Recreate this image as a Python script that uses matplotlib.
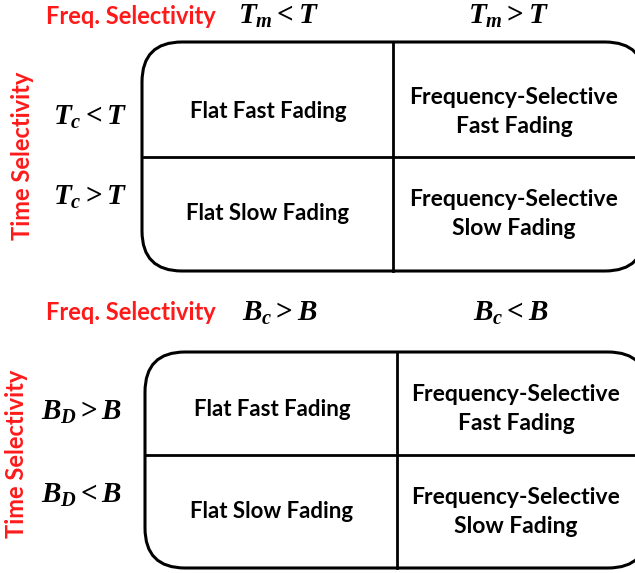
import matplotlib.pyplot as plt
from matplotlib.patches import FancyBboxPatch

plt.rcParams['mathtext.fontset'] = 'custom'
plt.rcParams['mathtext.it'] = 'Liberation Serif:italic:bold'
plt.rcParams['mathtext.rm'] = 'Liberation Serif:bold'

# labels of the two classification tables
col_top = [r'$T_m < T$', r'$T_m > T$']
row_top = [r'$T_c < T$', r'$T_c > T$']
col_bot = [r'$B_c > B$', r'$B_c < B$']
row_bot = [r'$B_D > B$', r'$B_D < B$']
cells = [["Flat Fast Fading", "Frequency-Selective\nFast Fading"],
         ["Flat Slow Fading", "Frequency-Selective\nSlow Fading"]]
freq_label = "Freq. Selectivity"
time_label = "Time Selectivity"

W, H = 635, 573
fig = plt.figure(figsize=(W / 100, H / 100), dpi=100)
ax = fig.add_axes([0, 0, 1, 1])
ax.set_xlim(0, W)
ax.set_ylim(H, 0)
ax.axis("off")

FONT = "Lato"
RED = "#ff1a1a"


def draw_table(left, top, right, bottom, xdiv, ydiv, cols, rows,
               freq_x, head_y, col_x, time_x, time_y, row_x, row_y,
               cell_x, cell_y):
    box = FancyBboxPatch((left, top), right - left, bottom - top,
                         boxstyle="round,pad=0,rounding_size=40",
                         fc="white", ec="black", lw=2.2)
    ax.add_patch(box)
    ax.plot([xdiv, xdiv], [top, bottom], color="black", lw=2.0)
    ax.plot([left, right], [ydiv, ydiv], color="black", lw=2.0)

    ax.text(freq_x, head_y, freq_label, color=RED, fontsize=17,
            fontweight="bold", family=FONT, ha="center", va="center")
    for x, lab in zip(col_x, cols):
        ax.text(x, head_y, lab, fontsize=21, ha="center", va="center")
    ax.text(time_x, time_y, time_label, color=RED, fontsize=17,
            fontweight="bold", family=FONT, rotation=90,
            ha="center", va="center")
    for y, lab in zip(row_y, rows):
        ax.text(row_x, y, lab, fontsize=21, ha="center", va="center")
    for i in range(2):
        for j in range(2):
            ax.text(cell_x[j], cell_y[i], cells[i][j],
                    fontsize=16 if j == 0 else 16.5,
                    fontweight="bold", family=FONT, ha="center", va="center",
                    linespacing=1.45)


draw_table(142, 42, 645, 271, 393, 157, col_top, row_top,
           freq_x=131, head_y=16, col_x=[278, 508],
           time_x=23, time_y=156, row_x=90, row_y=[117, 197],
           cell_x=[268, 514], cell_y=[112, 214])

draw_table(145, 352, 648, 568, 397, 455, col_bot, row_bot,
           freq_x=131, head_y=313, col_x=[280, 511],
           time_x=17, time_y=454, row_x=82, row_y=[412, 495],
           cell_x=[272, 516], cell_y=[409, 512])

fig.savefig("out.png", dpi=100)
